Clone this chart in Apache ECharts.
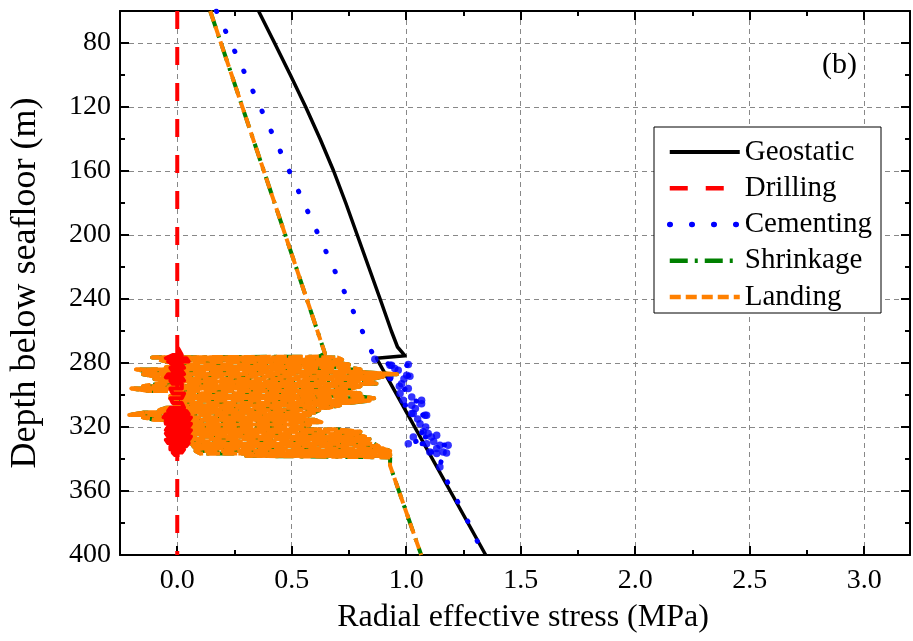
<!DOCTYPE html>
<html><head><meta charset="utf-8">
<script src="https://cdn.jsdelivr.net/npm/echarts@6/dist/echarts.min.js"></script>
<style>html,body{margin:0;padding:0;background:#fff}#c{width:913px;height:641px}</style>
</head><body><div id="c"></div>
<script>
// ---- data (x = radial effective stress MPa, y = depth below seafloor m) ----
const xTicks = [0, 0.5, 1.0, 1.5, 2.0, 2.5, 3.0];
const yTicks = [80, 120, 160, 200, 240, 280, 320, 360, 400];
const legendNames = ['Geostatic', 'Drilling', 'Cementing', 'Shrinkage', 'Landing'];

const geostatic = [[0.355,60],[0.425,80],[0.494,100],[0.561,120],[0.624,140],[0.683,160],[0.736,180],[0.786,200],[0.836,220],[0.886,240],[0.935,260],[0.962,270],[0.995,275.5],[0.87,277],[1.192,360],[1.347,400]];

// Drilling: straight dashed line at zero plus the scattered part (rows: depth, left x, right x)
const drillingLine = [[0,60],[0,400]];
const drillingRows = [[271,-0.005,0.005],[275,-0.02,0.02],[277,-0.05,0.04],[279,-0.04,0.05],[281,-0.02,0.02],[283,-0.03,0.03],[285,-0.02,0.02],[287,-0.04,0.03],[289,-0.05,0.02],[291,-0.03,0.03],[293,-0.02,0.02],[296,-0.03,0.02],[299,-0.02,0.03],[302,-0.03,0.02],[305,-0.02,0.02],[308,-0.03,0.03],[310,-0.04,0.04],[312,-0.05,0.05],[314,-0.06,0.06],[316,-0.05,0.05],[318,-0.05,0.06],[320,-0.04,0.05],[322,-0.05,0.06],[324,-0.05,0.05],[326,-0.04,0.06],[328,-0.05,0.05],[330,-0.04,0.05],[332,-0.03,0.04],[334,-0.03,0.03],[336,-0.02,0.02],[337.5,-0.01,0.01]];

// Cementing: dotted curve plus the scattered cloud
const cementingLine = [[0.171,60],[0.862,277],[0.936,281.4],[1.009,280.8],[0.965,285.6],[1.016,288.3],[0.929,289.8],[0.987,291.9],[1.001,295],[0.98,299],[1.024,303.3],[1.067,304.4],[0.994,306.4],[1.031,311.6],[1.082,312.7],[1.06,317.9],[1.074,323],[1.031,326.3],[1.11,326.3],[1.009,330.4],[1.089,330.4],[1.183,331.4],[1.133,333.5],[1.11,335.6],[1.161,335.6],[1.147,345],[1.198,359.6],[1.246,372.5],[1.292,385.6],[1.338,400]];
const cementingCloud = [[0.863,277.7],[0.929,281.4],[1.009,281.0],[0.965,284.6],[1.002,287.7],[0.929,288.8],[0.980,292.9],[1.009,296.0],[0.973,299.1],[1.024,301.3],[0.987,303.3],[1.067,303.3],[1.024,306.4],[1.067,305.4],[1.024,311.6],[1.089,312.7],[1.060,317.9],[1.096,324.1],[1.009,330.4],[1.133,325.2],[1.147,331.4],[1.183,331.4],[1.103,335.6],[1.133,336.6],[1.176,336.3],[1.082,312.7],[1.074,323],[1.031,326.3],[1.11,326.3],[1.089,330.4],[1.133,333.5],[1.161,335.6],[1.147,345],[1.016,288.3],[0.936,281.4],[1.031,311.6],[0.95,283.5],[0.99,290],[1.04,308.5],[1.05,315],[1.085,320],[1.12,329],[0.97,294.5]];

// Shrinkage / Landing: straight parts and the scattered band (rows: depth, left x, right x)
const landingTop = [[0.144,60],[0.631,268],[0.645,274],[0.62,276]];
const landingRows = [[276.5,-0.11,0.70],[278,-0.08,0.72],[279.5,-0.03,0.68],[281,0.05,0.75],[282.5,-0.05,0.74],[284,-0.18,0.80],[285.5,-0.12,0.78],[287,-0.15,0.96],[288.5,-0.10,0.90],[290,-0.10,0.85],[291.5,-0.05,0.83],[293,-0.08,0.87],[294.5,-0.15,0.80],[296,-0.20,0.75],[297.5,-0.12,0.72],[299,0.00,0.80],[300.5,-0.03,0.78],[302,-0.03,0.86],[303.5,0.00,0.84],[305,0.02,0.75],[306.5,-0.02,0.71],[308,-0.05,0.66],[309.5,-0.08,0.62],[311,-0.15,0.60],[312.5,-0.21,0.58],[314,-0.15,0.52],[315.5,-0.10,0.60],[317,-0.05,0.63],[318.5,0.03,0.58],[320,0.04,0.55],[321.5,0.05,0.70],[323,0.04,0.80],[324.5,0.04,0.78],[326,0.04,0.82],[327.5,0.05,0.84],[329,0.06,0.83],[330.5,0.06,0.86],[332,0.07,0.88],[333.5,0.08,0.90],[335,0.08,0.93],[336.5,0.10,0.93],[338,0.30,0.93]];
const landingBottom = [[0.93,339],[0.929,344],[1.063,399],[1.065,400]];

// ---- build the path of a back-and-forth band from its rows ----
function bandPath(rows) {
  const out = [];
  rows.forEach((r, i) => {
    if (i % 2 === 0) { out.push([r[1], r[0]], [r[2], r[0]]); }
    else { out.push([r[2], r[0]], [r[1], r[0]]); }
  });
  return out;
}
const landingPath = landingTop.concat(bandPath(landingRows), landingBottom);
const landingBand = bandPath(landingRows);
const drillingPath = bandPath(drillingRows);

// ---- chart ----
const FONT = 'Liberation Serif';
const chart = echarts.init(document.getElementById('c'), null, {renderer: 'canvas'});
const X0 = -0.25, X1 = 3.2, Y0 = 60, Y1 = 400;

function xAxisMajor(pos, showLabel) {
  return {
    type: 'value', position: pos, min: X0, max: X1,
    axisLine: {show: true, onZero: false, lineStyle: {color: '#000', width: 2}},
    axisTick: {show: true, inside: true, length: 9, customValues: xTicks, lineStyle: {color: '#000', width: 2}},
    axisLabel: {show: showLabel, customValues: xTicks, margin: 12, color: '#000', fontFamily: FONT, fontSize: 28,
      formatter: v => v.toFixed(1)},
    splitLine: {show: showLabel, lineStyle: {color: '#888', type: [5, 4], width: 1}},
    name: showLabel ? 'Radial effective stress (MPa)' : '',
    nameLocation: 'middle', nameGap: 47,
    nameTextStyle: {color: '#000', fontFamily: FONT, fontSize: 32, padding: [0, 0, 0, 16]}
  };
}
function xAxisMinor(pos) {
  return {
    type: 'value', position: pos, min: X0, max: X1, interval: 0.25,
    axisLine: {show: false, onZero: false}, axisLabel: {show: false}, splitLine: {show: false},
    axisTick: {show: true, inside: true, length: 5, lineStyle: {color: '#000', width: 2}}
  };
}
function yAxisMajor(pos, showLabel) {
  return {
    type: 'value', position: pos, min: Y0, max: Y1, inverse: true,
    axisLine: {show: true, onZero: false, lineStyle: {color: '#000', width: 2}},
    axisTick: {show: true, inside: true, length: 9, customValues: yTicks, lineStyle: {color: '#000', width: 2}},
    axisLabel: {show: showLabel, customValues: yTicks, margin: 9, color: '#000', fontFamily: FONT, fontSize: 28},
    splitLine: {show: showLabel, lineStyle: {color: '#888', type: [5, 4], width: 1}},
    name: showLabel ? 'Depth below seafloor (m)' : '',
    nameLocation: 'middle', nameGap: 76, nameRotate: 90,
    nameTextStyle: {color: '#000', fontFamily: FONT, fontSize: 36}
  };
}
function yAxisMinor(pos) {
  return {
    type: 'value', position: pos, min: Y0, max: Y1, interval: 20, inverse: true,
    axisLine: {show: false, onZero: false}, axisLabel: {show: false}, splitLine: {show: false},
    axisTick: {show: true, inside: true, length: 5, lineStyle: {color: '#000', width: 2}}
  };
}

function lineSeries(name, data, color, width, type, z, cap) {
  return {
    name, type: 'line', data, xAxisIndex: 0, yAxisIndex: 0,
    symbol: 'none', showSymbol: false, animation: false, z,
    lineStyle: {color, width, type, cap: cap || 'butt', join: 'round'},
    itemStyle: {color}
  };
}

const option = {
  animation: false,
  backgroundColor: '#fff',
  grid: {left: 119, right: 3, top: 11, bottom: 86, containLabel: false},
  xAxis: [xAxisMajor('bottom', true), xAxisMajor('top', false), xAxisMinor('bottom'), xAxisMinor('top')],
  yAxis: [yAxisMajor('left', true), yAxisMajor('right', false), yAxisMinor('left'), yAxisMinor('right')],
  legend: {
    data: [
      {name: legendNames[0], lineStyle: {width: 4}},
      {name: legendNames[1], lineStyle: {width: 4.5}},
      {name: legendNames[2], lineStyle: {width: 5.5, cap: 'round'}},
      {name: legendNames[3], lineStyle: {width: 4.5}},
      {name: legendNames[4], lineStyle: {width: 4.5}}
    ],
    orient: 'vertical', left: 654, top: 127,
    itemWidth: 70, itemHeight: 14, itemGap: 6.25,
    padding: [10, 9, 1, 13],
    borderColor: '#000', borderWidth: 1, backgroundColor: '#fff',
    itemStyle: {opacity: 0},
    textStyle: {color: '#000', fontFamily: FONT, fontSize: 29, lineHeight: 30},
    selectedMode: false
  },
  graphic: [{
    type: 'text', left: 822, top: 50,
    style: {text: '(b)', fontFamily: FONT, fontSize: 30, fill: '#000'}
  }],
  series: [
    lineSeries('Geostatic', geostatic, '#000000', 3.5, 'solid', 2),
    lineSeries('Cementing', cementingLine, '#0000ff', 5, [0.5, 21.5], 3, 'round'),
    {name: 'Cementing', type: 'scatter', data: cementingCloud, symbol: 'circle', symbolSize: 7.5,
      itemStyle: {color: '#0000ff'}, z: 3, animation: false},
    lineSeries('Shrinkage', landingPath, '#008000', 4, [18, 7, 3, 7], 4),
    lineSeries('Landing', landingPath, '#ff8000', 4, [11, 5], 5),
    lineSeries('Landing', landingBand, '#ff8000', 4, [13, 4], 5),
    lineSeries('Drilling', drillingLine, '#ff0000', 4, [18, 18], 6),
    lineSeries('Drilling', drillingPath, '#ff0000', 4, 'solid', 6)
  ]
};
chart.setOption(option);
</script>
</body></html>
